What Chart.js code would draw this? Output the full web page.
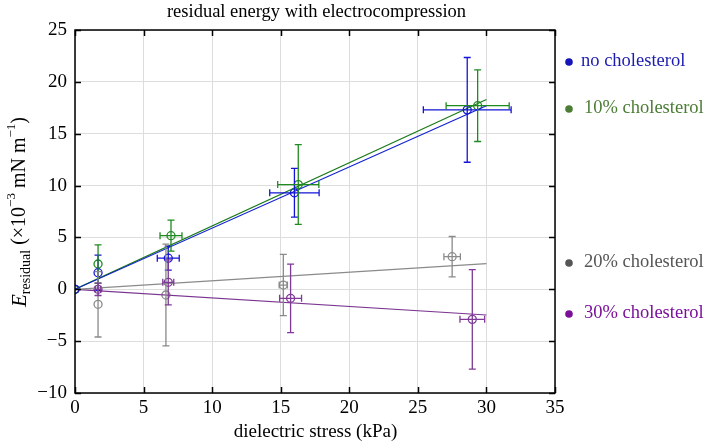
<!DOCTYPE html>
<html>
<head>
<meta charset="utf-8">
<script src="https://cdn.jsdelivr.net/npm/chart.js@4.4.1/dist/chart.umd.min.js"></script>
<style>
  html, body { margin: 0; padding: 0; background: #fff; }
  #wrap { width: 704px; height: 442px; position: relative; }
</style>
</head>
<body>
<div id="wrap"><canvas id="chart" width="704" height="442"></canvas></div>
<script>
// measured series: dielectric stress (kPa) vs residual energy (x10^-3 mN/m)
const seriesNames = ['no cholesterol', '10% cholesterol', '20% cholesterol', '30% cholesterol'];

const noX    = [0, 1.68, 6.8, 16.0, 28.6];
const noY    = [0, 1.6, 3.0, 9.3, 17.3];
const noXErr = [0, 0, 0.8, 1.8, 3.2];
const noYErr = [0, 1.7, 1.15, 2.35, 5.05];

const c10X    = [0, 1.68, 7.0, 16.28, 29.36];
const c10Y    = [0, 2.44, 5.17, 10.1, 17.7];
const c10XErr = [0, 0, 0.8, 1.5, 2.3];
const c10YErr = [0, 1.85, 1.5, 3.85, 3.45];

const c20X    = [0, 1.68, 6.63, 15.19, 27.5];
const c20Y    = [0, -1.45, -0.55, 0.41, 3.14];
const c20XErr = [0, 0, 0, 0.3, 0.6];
const c20YErr = [0, 3.15, 4.9, 2.95, 1.95];

const c30X    = [0, 1.68, 6.8, 15.72, 28.97];
const c30Y    = [0, 0, 0.67, -0.87, -2.9];
const c30XErr = [0, 0.2, 0.4, 0.8, 0.9];
const c30YErr = [0, 0.6, 2.17, 3.3, 4.8];

// linear fits through origin
const fitX   = [0, 30];
const noFit  = [0, 17.7];
const c10Fit = [0, 18.3];
const c20Fit = [0, 2.47];
const c30Fit = [0, -2.48];

const xTicks = [0, 5, 10, 15, 20, 25, 30, 35];
const yTicks = [-10, -5, 0, 5, 10, 15, 20, 25];

const markColors  = ['#1414d8', '#1f8a1f', '#8a8a8a', '#7e3a96'];
const fitColors   = ['#1020d0', '#1a7a1a', '#8a8a8a', '#7a3590'];
const labelColors = ['#1c1cb0', '#4b7d35', '#555555', '#7a109a'];
const labelDots   = ['#1414b8', '#4b7d35', '#555555', '#7a109a'];
const labelYPix   = [61, 108, 262, 313];
const labelXPix   = [581, 584, 584, 584];

const FONT = '"Liberation Serif", "DejaVu Serif", serif';

const pts = (xs, ys) => xs.map((x, i) => ({ x, y: ys[i] }));

const groups = [
  [noX, noY, noXErr, noYErr, noFit],
  [c10X, c10Y, c10XErr, c10YErr, c10Fit],
  [c20X, c20Y, c20XErr, c20YErr, c20Fit],
  [c30X, c30Y, c30XErr, c30YErr, c30Fit]
];

const datasets = [];
groups.forEach((g, i) => {
  datasets.push({
    label: seriesNames[i] + ' fit',
    data: pts(fitX, g[4]),
    showLine: true,
    borderColor: fitColors[i],
    borderWidth: 1.2,
    pointRadius: 0,
    fill: false
  });
});
groups.forEach((g, i) => {
  datasets.push({
    label: seriesNames[i],
    data: pts(g[0], g[1]),
    showLine: false,
    pointStyle: 'circle',
    pointRadius: 4,
    pointBorderWidth: 1.3,
    pointBorderColor: markColors[i],
    pointBackgroundColor: 'rgba(0,0,0,0)'
  });
});

const errorBars = {
  id: 'errorBars',
  afterDatasetsDraw(chart) {
    const { ctx, chartArea, scales: { x, y } } = chart;
    ctx.save();
    ctx.beginPath();
    ctx.rect(chartArea.left, chartArea.top, chartArea.width, chartArea.height);
    ctx.clip();
    ctx.lineWidth = 1.3;
    const cap = 3.5;
    groups.forEach((g, i) => {
      ctx.strokeStyle = markColors[i];
      g[0].forEach((xv, k) => {
        const px = x.getPixelForValue(xv);
        const py = y.getPixelForValue(g[1][k]);
        const ye = g[3][k], xe = g[2][k];
        ctx.beginPath();
        if (ye > 0) {
          const y1 = y.getPixelForValue(g[1][k] + ye);
          const y2 = y.getPixelForValue(g[1][k] - ye);
          ctx.moveTo(px, y1); ctx.lineTo(px, y2);
          ctx.moveTo(px - cap, y1); ctx.lineTo(px + cap, y1);
          ctx.moveTo(px - cap, y2); ctx.lineTo(px + cap, y2);
        }
        if (xe > 0) {
          const x1 = x.getPixelForValue(xv - xe);
          const x2 = x.getPixelForValue(xv + xe);
          ctx.moveTo(x1, py); ctx.lineTo(x2, py);
          ctx.moveTo(x1, py - cap); ctx.lineTo(x1, py + cap);
          ctx.moveTo(x2, py - cap); ctx.lineTo(x2, py + cap);
        }
        ctx.stroke();
      });
    });
    ctx.restore();
  }
};

const frame = {
  id: 'frame',
  afterDraw(chart) {
    const { ctx, chartArea: a, scales: { x, y } } = chart;
    ctx.save();
    ctx.strokeStyle = '#000';
    ctx.lineWidth = 1.5;
    ctx.strokeRect(a.left, a.top, a.width, a.height);
    const t = 6;
    ctx.beginPath();
    xTicks.forEach(v => {
      const px = Math.round(x.getPixelForValue(v)) + 0.5;
      ctx.moveTo(px, a.bottom); ctx.lineTo(px, a.bottom - t);
      ctx.moveTo(px, a.top); ctx.lineTo(px, a.top + t);
    });
    yTicks.forEach(v => {
      const py = Math.round(y.getPixelForValue(v)) + 0.5;
      ctx.moveTo(a.left, py); ctx.lineTo(a.left + t, py);
      ctx.moveTo(a.right, py); ctx.lineTo(a.right - t, py);
    });
    ctx.stroke();

    // title
    ctx.fillStyle = '#000';
    ctx.font = '18.5px ' + FONT;
    ctx.textAlign = 'center';
    ctx.textBaseline = 'middle';
    ctx.fillText('residual energy with electrocompression', 316.5, 12);

    // x title
    ctx.font = '19px ' + FONT;
    ctx.fillText('dielectric stress (kPa)', 315.5, 432);

    // y title with sub/superscripts
    const parts = [
      { t: 'E', f: 'italic 21px ' + FONT, dy: 0 },
      { t: 'residual', f: '14px ' + FONT, dy: 6 },
      { t: ' (×10', f: '20px ' + FONT, dy: 0 },
      { t: '−3', f: '13px ' + FONT, dy: -8 },
      { t: ' mN m', f: '20px ' + FONT, dy: 0 },
      { t: '−1', f: '13px ' + FONT, dy: -8 },
      { t: ')', f: '20px ' + FONT, dy: 0 }
    ];
    let total = 0;
    parts.forEach(p => { ctx.font = p.f; p.w = ctx.measureText(p.t).width; total += p.w; });
    ctx.translate(20, 212);
    ctx.rotate(-Math.PI / 2);
    ctx.textAlign = 'left';
    ctx.textBaseline = 'middle';
    let cx = -total / 2;
    parts.forEach(p => { ctx.font = p.f; ctx.fillText(p.t, cx, p.dy); cx += p.w; });
    ctx.setTransform(1, 0, 0, 1, 0, 0);

    // legend labels on the right
    ctx.font = '18.5px ' + FONT;
    ctx.textAlign = 'left';
    ctx.textBaseline = 'middle';
    seriesNames.forEach((n, i) => {
      ctx.fillStyle = labelDots[i];
      ctx.beginPath();
      ctx.arc(569, labelYPix[i] + 1, 3.8, 0, Math.PI * 2);
      ctx.fill();
      ctx.fillStyle = labelColors[i];
      ctx.fillText(n, labelXPix[i], labelYPix[i]);
    });
    ctx.restore();
  }
};

new Chart(document.getElementById('chart'), {
  type: 'scatter',
  data: { datasets },
  options: {
    responsive: false,
    animation: false,
    layout: { padding: { top: 30, right: 149, left: 0, bottom: 0 } },
    plugins: { legend: { display: false }, tooltip: { enabled: false } },
    scales: {
      x: {
        type: 'linear', min: 0, max: 35,
        afterBuildTicks: s => { s.ticks = xTicks.map(v => ({ value: v })); },
        afterFit: s => { s.height = 49; },
        grid: { color: '#dddddd', drawTicks: false },
        border: { display: false },
        ticks: { color: '#000', font: { family: FONT, size: 19 }, padding: 4, maxRotation: 0 }
      },
      y: {
        type: 'linear', min: -10, max: 25,
        afterBuildTicks: s => { s.ticks = yTicks.map(v => ({ value: v })); },
        afterFit: s => { s.width = 75; },
        grid: { color: '#dddddd', drawTicks: false },
        border: { display: false },
        ticks: { color: '#000', font: { family: FONT, size: 19 }, padding: 8,
                 callback: v => v < 0 ? '−' + Math.abs(v) : String(v) }
      }
    }
  },
  plugins: [errorBars, frame]
});
</script>
</body>
</html>
